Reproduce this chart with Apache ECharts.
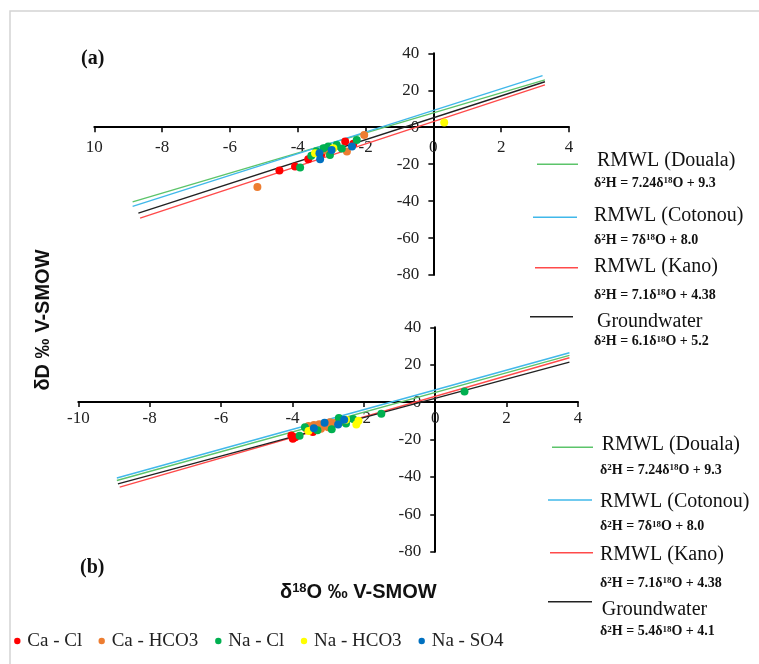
<!DOCTYPE html>
<html><head><meta charset="utf-8">
<script src="https://cdn.jsdelivr.net/npm/echarts@6/dist/echarts.min.js"></script>
<style>html,body{margin:0;padding:0;background:#fff}#c{width:759px;height:664px}</style>
</head><body><div id="c"></div>
<script>
// ---- data ----
const xTicks = [-10, -8, -6, -4, -2, 0, 2, 4];
const yTicks = [40, 20, 0, -20, -40, -60, -80];
const xTickLabelsA = ['10', '-8', '-6', '-4', '-2', '0', '2', '4'];
const xTickLabelsB = ['-10', '-8', '-6', '-4', '-2', '0', '2', '4'];

// regression / meteoric water lines (end points)
const doualaA = [[-8.87, -40.4], [3.29, 25.6]];
const cotonouA = [[-8.87, -42.9], [3.22, 27.9]];
const kanoA = [[-8.65, -49.2], [3.29, 22.9]];
const gwA = [[-8.70, -46.5], [3.29, 24.6]];
const doualaB = [[-8.92, -41.9], [3.76, 25.0]];
const cotonouB = [[-8.92, -40.6], [3.76, 26.4]];
const kanoB = [[-8.84, -45.5], [3.76, 23.7]];
const gwB = [[-8.89, -43.7], [3.76, 21.4]];

// samples, panel (a)
const caClA = [[-4.54, -23.4], [-4.08, -21.3], [-3.69, -17.3], [-2.60, -7.8], [-2.36, -9.0], [-3.30, -14.5]];
const caHco3A = [[-5.19, -32.4], [-2.55, -13.2], [-2.04, -4.2], [-3.20, -12.5]];
const naClA = [[-3.93, -21.8], [-3.60, -15.5], [-3.24, -11.4], [-3.10, -10.5], [-3.05, -15.0], [-2.85, -9.6], [-2.70, -11.5], [-2.26, -6.9], [-3.45, -13.0]];
const naHco3A = [[0.32, 2.5], [-3.49, -14.1], [-2.95, -11.4]];
const naSo4A = [[-3.36, -14.1], [-3.34, -17.3], [-3.00, -12.3], [-2.40, -10.5]];

// samples, panel (b)
const caClB = [[-3.99, -19.6], [-4.03, -17.8], [-3.92, -18.8], [-3.43, -16.0], [-2.70, -9.5], [-3.00, -12.0]];
const caHco3B = [[-3.60, -14.5], [-3.50, -13.5], [-3.30, -13.0], [-3.20, -14.2], [-3.10, -12.5], [-3.00, -13.5], [-2.90, -12.0], [-2.80, -11.0], [-3.40, -12.2], [-2.60, -10.5], [-3.25, -11.8], [-2.95, -10.8], [-3.55, -12.8]];
const naClB = [[-3.80, -18.0], [-3.65, -13.5], [-3.30, -15.0], [-2.90, -14.5], [-2.50, -11.5], [-2.30, -9.0], [-1.51, -6.2], [0.82, 5.7], [-2.70, -8.5]];
const naHco3B = [[-2.21, -12.0], [-2.50, -9.5], [-3.55, -15.5], [-2.15, -10.0]];
const naSo4B = [[-3.40, -14.0], [-2.72, -12.0], [-2.55, -9.5], [-3.10, -11.0]];

const groupNames = ['Ca - Cl', 'Ca - HCO3', 'Na - Cl', 'Na - HCO3', 'Na - SO4'];
const lineNames = ['RMWL (Douala)', 'RMWL (Cotonou)', 'RMWL (Kano)', 'Groundwater'];
const eqA = ['δ{s|2}H = 7.24δ{s|18}O + 9.3', 'δ{s|2}H = 7δ{s|18}O + 8.0', 'δ{s|2}H = 7.1δ{s|18}O + 4.38', 'δ{s|2}H = 6.1δ{s|18}O + 5.2'];
const eqB = ['δ{s|2}H = 7.24δ{s|18}O + 9.3', 'δ{s|2}H = 7δ{s|18}O + 8.0', 'δ{s|2}H = 7.1δ{s|18}O + 4.38', 'δ{s|2}H = 5.4δ{s|18}O + 4.1'];

// ---- styling / layout ----
const groupColors = ['#ff0000', '#ed7d31', '#00b050', '#ffff00', '#0070c0'];
const lineColors = ['#5cc46a', '#40b8ea', '#ff4a4a', '#222222'];
const serif = 'Liberation Serif, Times New Roman, serif';
const sans = 'Liberation Sans, Arial, sans-serif';
const X_MIN = -10, X_MAX = 4, Y_MIN = -80, Y_MAX = 40;
const grids = [
  { left: 94.3, top: 53.3, width: 474.7, height: 221.7 },
  { left: 78.3, top: 327.3, width: 499.7, height: 224.4 }
];
// axes cross at the origin: shift them from the grid edges to zero
function xOffset(g) { return -(g.height * (0 - Y_MIN) / (Y_MAX - Y_MIN)); }
function yOffset(g) { return -(g.width * (0 - X_MIN) / (X_MAX - X_MIN)); }

function xAxisFor(idx, labels, margin) {
  return {
    type: 'value', gridIndex: idx, min: X_MIN, max: X_MAX, interval: 2,
    position: 'bottom', offset: xOffset(grids[idx]),
    axisLine: { show: true, onZero: false, lineStyle: { color: '#000', width: 2 } },
    axisTick: { show: true, inside: false, length: 5, lineStyle: { color: '#000', width: 1.5 } },
    axisLabel: { color: '#222', fontFamily: serif, fontSize: 17, margin: margin,
      formatter: v => labels[xTicks.indexOf(Math.round(v))] },
    splitLine: { show: false }
  };
}
function yAxisFor(idx) {
  return {
    type: 'value', gridIndex: idx, min: Y_MIN, max: Y_MAX, interval: 20,
    position: 'left', offset: yOffset(grids[idx]),
    axisLine: { show: true, onZero: false, lineStyle: { color: '#000', width: 2 } },
    axisTick: { show: true, inside: false, length: 5, lineStyle: { color: '#000', width: 1.5 } },
    axisLabel: { color: '#222', fontFamily: serif, fontSize: 17, margin: 14,
      formatter: v => (yTicks.indexOf(Math.round(v)) >= 0 ? String(Math.round(v)) : '') },
    splitLine: { show: false }
  };
}

const series = [];
const linesSetA = [doualaA, cotonouA, kanoA, gwA];
const linesSetB = [doualaB, cotonouB, kanoB, gwB];
[linesSetA, linesSetB].forEach((set, gi) => {
  set.forEach((d, i) => {
    series.push({ type: 'line', name: lineNames[i], xAxisIndex: gi, yAxisIndex: gi, data: d,
      showSymbol: false, symbol: 'none', silent: true,
      lineStyle: { color: lineColors[i], width: 1.4 }, z: 2 });
  });
});
const ptsA = [caClA, caHco3A, naClA, naHco3A, naSo4A];
const ptsB = [caClB, caHco3B, naClB, naHco3B, naSo4B];
[ptsA, ptsB].forEach((set, gi) => {
  set.forEach((d, i) => {
    series.push({ type: 'scatter', name: groupNames[i], xAxisIndex: gi, yAxisIndex: gi, data: d,
      symbol: 'circle', symbolSize: 8, itemStyle: { color: groupColors[i], opacity: 1 }, z: 3 });
  });
});

// legend graphics (right side)
const graphics = [];
graphics.push({ type: 'rect', shape: { x: 10, y: 11, width: 900, height: 900 }, style: { fill: 'none', stroke: '#d4d4d4', lineWidth: 1.5 }, silent: true, z: 0 });
function legendBlock(items) {
  items.forEach(it => {
    graphics.push({ type: 'line', shape: { x1: it.lx1, y1: it.ly, x2: it.lx2, y2: it.ly }, style: { stroke: it.color, lineWidth: 1.6 } });
    graphics.push({ type: 'text', x: it.tx, y: it.ty, style: { text: it.title, font: '20px ' + serif, fill: '#111', textVerticalAlign: 'middle' } });
    graphics.push({ type: 'text', x: it.ex, y: it.ey, style: { text: it.eq, fontFamily: serif, fontSize: 14, fontWeight: 'bold', fill: '#111', textVerticalAlign: 'middle',
      rich: { s: { fontSize: 9, fontWeight: 'bold', fontFamily: serif, verticalAlign: 'top' } } } });
  });
}
legendBlock([
  { lx1: 537, lx2: 578, ly: 164.3, tx: 597, ty: 160.7, ex: 594, ey: 183.3, color: lineColors[0], title: lineNames[0], eq: eqA[0] },
  { lx1: 533, lx2: 577, ly: 217.3, tx: 594, ty: 216, ex: 594, ey: 240, color: lineColors[1], title: lineNames[1], eq: eqA[1] },
  { lx1: 535, lx2: 578, ly: 267.7, tx: 594, ty: 266.7, ex: 594, ey: 295, color: lineColors[2], title: lineNames[2], eq: eqA[2] },
  { lx1: 530, lx2: 573, ly: 316.7, tx: 597, ty: 321.7, ex: 594, ey: 341.7, color: lineColors[3], title: lineNames[3], eq: eqA[3] }
]);
legendBlock([
  { lx1: 552, lx2: 593, ly: 447.3, tx: 601.7, ty: 445, ex: 600, ey: 470, color: lineColors[0], title: lineNames[0], eq: eqB[0] },
  { lx1: 548, lx2: 592, ly: 500, tx: 600, ty: 501.7, ex: 600, ey: 526.7, color: lineColors[1], title: lineNames[1], eq: eqB[1] },
  { lx1: 550, lx2: 593, ly: 552.7, tx: 600, ty: 555, ex: 600, ey: 583.3, color: lineColors[2], title: lineNames[2], eq: eqB[2] },
  { lx1: 548, lx2: 592, ly: 601.7, tx: 601.7, ty: 609.3, ex: 600, ey: 631.7, color: lineColors[3], title: lineNames[3], eq: eqB[3] }
]);
// group legend (bottom)
const gx = [17.3, 101.7, 218.3, 304, 421.7];
groupNames.forEach((n, i) => {
  graphics.push({ type: 'circle', shape: { cx: gx[i], cy: 641, r: 3.2 }, style: { fill: groupColors[i] } });
  graphics.push({ type: 'text', x: gx[i] + 10, y: 641, style: { text: n, font: '19px ' + serif, fill: '#222', textVerticalAlign: 'middle' } });
});
// panel letters and axis titles
graphics.push({ type: 'text', x: 81, y: 59, style: { text: '(a)', font: 'bold 20px ' + serif, fill: '#111', textVerticalAlign: 'middle' } });
graphics.push({ type: 'text', x: 80, y: 568, style: { text: '(b)', font: 'bold 20px ' + serif, fill: '#111', textVerticalAlign: 'middle' } });
graphics.push({ type: 'text', x: 280, y: 592, style: { text: 'δ{s|18}O ‰ V-SMOW', fontFamily: sans, fontSize: 20, fontWeight: 'bold', fill: '#111', textVerticalAlign: 'middle',
  rich: { s: { fontSize: 13, fontWeight: 'bold', fontFamily: sans, verticalAlign: 'top' } } } });
graphics.push({ type: 'text', x: 43, y: 320, rotation: Math.PI / 2, style: { text: 'δD ‰ V-SMOW', font: 'bold 20px ' + sans, fill: '#111', textAlign: 'center', textVerticalAlign: 'middle' } });

const chart = echarts.init(document.getElementById('c'), null, { renderer: 'canvas' });
chart.setOption({
  animation: false,
  backgroundColor: '#fff',
  grid: grids.map(g => Object.assign({ containLabel: false, outerBoundsMode: 'none' }, g)),
  xAxis: [xAxisFor(0, xTickLabelsA, 12), xAxisFor(1, xTickLabelsB, 8)],
  yAxis: [yAxisFor(0), yAxisFor(1)],
  series: series,
  graphic: graphics
});
</script>
</body></html>
